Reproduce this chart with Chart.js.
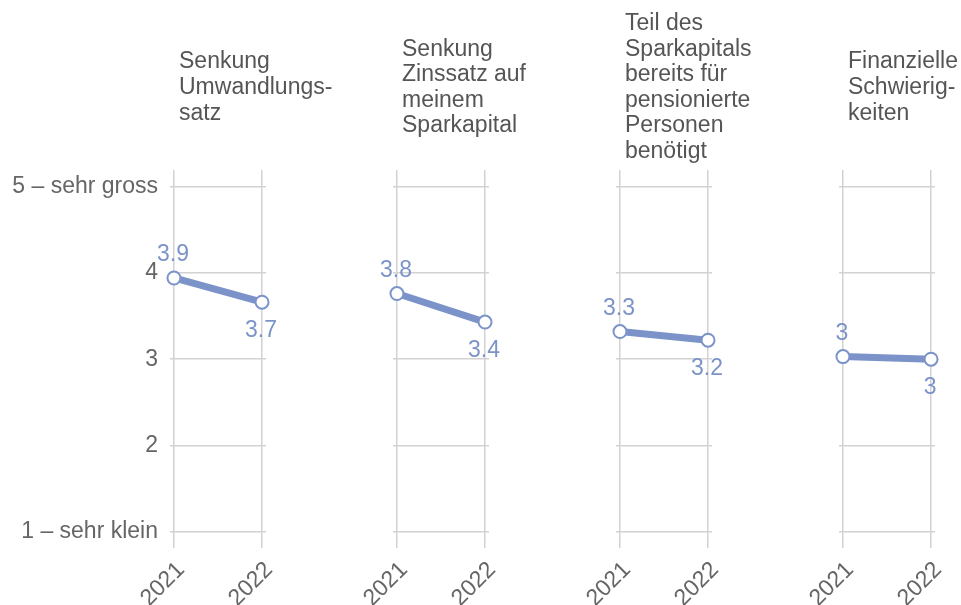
<!DOCTYPE html>
<html>
<head>
<meta charset="utf-8">
<script src="https://cdn.jsdelivr.net/npm/chart.js@4"></script>
<style>
  html, body { margin: 0; padding: 0; background: #fff; overflow: hidden; }
  #wrap { position: relative; width: 961px; height: 605px; overflow: hidden; }
  #wrap canvas { position: absolute; top: 0; }
</style>
</head>
<body>
<div id="wrap"></div>
<script>
'use strict';
const years = [2021, 2022];
const titles = [
  ['Senkung', 'Umwandlungs-', 'satz'],
  ['Senkung', 'Zinssatz auf', 'meinem', 'Sparkapital'],
  ['Teil des', 'Sparkapitals', 'bereits für', 'pensionierte', 'Personen', 'benötigt'],
  ['Finanzielle', 'Schwierig-', 'keiten']
];
const values = [
  [3.94, 3.66],
  [3.76, 3.43],
  [3.32, 3.22],
  [3.03, 3.00]
];
const scaleSteps = [1, 2, 3, 4, 5];
const scaleNames = { 1: '1 – sehr klein', 5: '5 – sehr gross' };

const blue = '#7b93c8';
const gridColor = '#d2d2d2';
const tickColor = '#666666';
const titleColor = '#555555';
const fontFamily = '"Liberation Sans", Arial, sans-serif';
const fontSize = 23;

Chart.defaults.font.family = fontFamily;
Chart.defaults.font.size = fontSize;

const wrap = document.getElementById('wrap');

function formatValue(v) {
  return String(Math.round(v * 10) / 10);
}

// multi-line heading above each panel, centred vertically on the same line
const panelTitle = {
  id: 'panelTitle',
  afterDraw(chart, args, opts) {
    const ctx = chart.ctx;
    const lineHeight = 25.6;
    const lines = opts.lines || [];
    let y = 94 - (lines.length - 1) * lineHeight / 2;
    ctx.save();
    ctx.font = fontSize + 'px ' + fontFamily;
    ctx.fillStyle = titleColor;
    ctx.textAlign = 'left';
    ctx.textBaseline = 'alphabetic';
    for (let k = 0; k < lines.length; k++) {
      ctx.fillText(lines[k], chart.chartArea.left + 9, y + k * lineHeight);
    }
    ctx.restore();
  }
};

// value next to each point: first one above, second one below
const valueLabels = {
  id: 'valueLabels',
  afterDatasetsDraw(chart) {
    const ctx = chart.ctx;
    const meta = chart.getDatasetMeta(0);
    const data = chart.data.datasets[0].data;
    ctx.save();
    ctx.font = fontSize + 'px ' + fontFamily;
    ctx.fillStyle = blue;
    ctx.textAlign = 'center';
    ctx.textBaseline = 'alphabetic';
    meta.data.forEach((pt, k) => {
      const text = formatValue(data[k].y);
      if (k === 0) {
        ctx.fillText(text, pt.x - 1, pt.y - 17);
      } else {
        ctx.fillText(text, pt.x - 1, pt.y + 35);
      }
    });
    ctx.restore();
  }
};

function createPanel(i) {
  const canvas = document.createElement('canvas');
  canvas.width = 340;
  canvas.height = 640;
  canvas.style.left = (223 * i) + 'px';
  wrap.appendChild(canvas);

  new Chart(canvas.getContext('2d'), {
    type: 'line',
    data: {
      datasets: [{
        data: years.map((yr, k) => ({ x: yr, y: values[i][k] })),
        borderColor: blue,
        borderWidth: 7,
        tension: 0,
        clip: false,
        pointRadius: 6.5,
        pointBorderWidth: 2,
        pointBackgroundColor: '#ffffff',
        pointBorderColor: blue
      }]
    },
    options: {
      responsive: false,
      animation: false,
      layout: { padding: { top: 170, right: 74, left: 0, bottom: 0 } },
      plugins: {
        legend: { display: false },
        tooltip: { enabled: false },
        panelTitle: { lines: titles[i] }
      },
      scales: {
        x: {
          type: 'linear',
          min: 2020.955,
          max: 2022.045,
          afterBuildTicks: axis => { axis.ticks = years.map(v => ({ value: v })); },
          afterFit: axis => { axis.height = 640 - 548.4; },
          grid: { color: gridColor, lineWidth: 1.5, drawTicks: false },
          border: { display: false },
          ticks: {
            minRotation: 45,
            maxRotation: 45,
            padding: 8,
            labelOffset: 7,
            color: tickColor,
            callback: v => String(v)
          }
        },
        y: {
          min: 0.81,
          max: 5.19,
          afterBuildTicks: axis => { axis.ticks = scaleSteps.map(v => ({ value: v })); },
          afterFit: axis => { axis.width = 170; },
          grid: { color: gridColor, lineWidth: 1.5, drawTicks: false },
          border: { display: false },
          ticks: {
            display: i === 0,
            padding: 12,
            color: tickColor,
            callback: v => scaleNames[v] || String(v)
          }
        }
      }
    },
    plugins: [panelTitle, valueLabels]
  });
}

for (let i = 0; i < values.length; i++) {
  createPanel(i);
}
</script>
</body>
</html>
